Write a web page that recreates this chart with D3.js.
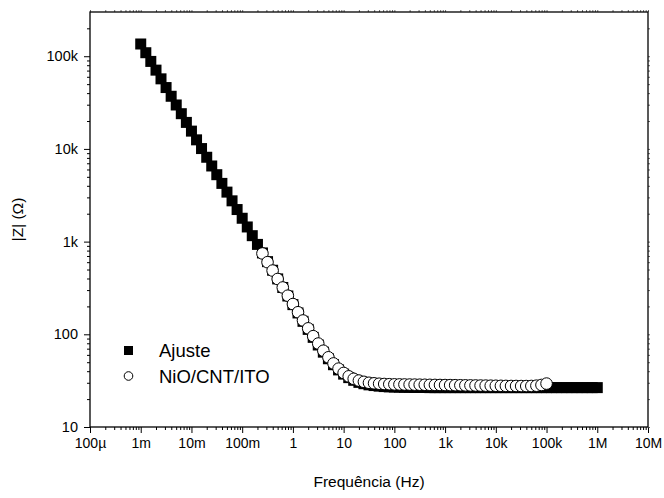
<!DOCTYPE html>
<html>
<head>
<meta charset="utf-8">
<script src="https://cdn.jsdelivr.net/npm/d3@7"></script>
<style>
  html, body { margin: 0; padding: 0; background: #fff; }
  svg { display: block; }
  text { font-family: "Liberation Sans", Arial, sans-serif; fill: #000; }
</style>
</head>
<body>
<svg id="chart" width="664" height="498"></svg>
<script>
// Frequencies of the fitted curve (Hz), ten points per decade
const fitFreq = [
  0.001,0.00126,0.00158,0.002,0.00251,0.00316,0.00398,0.00501,0.00631,0.00794,
  0.01,0.0126,0.0158,0.02,0.0251,0.0316,0.0398,0.0501,0.0631,0.0794,
  0.1,0.126,0.158,0.2,0.251,0.316,0.398,0.501,0.631,0.794,
  1,1.26,1.58,2,2.51,3.16,3.98,5.01,6.31,7.94,
  10,12.6,15.8,20,25.1,31.6,39.8,50.1,63.1,79.4,
  100,126,158,200,251,316,398,501,631,794,
  1000,1260,1580,2000,2510,3160,3980,5010,6310,7940,
  10000,12600,15800,20000,25100,31600,39800,50100,63100,79400,
  100000,126000,158000,200000,251000,316000,398000,501000,631000,794000,
  1000000
];
// |Z| of the fit (ohm)
const fitZ = [
  135500,109100,87900,70790,57020,45920,36980,29790,23990,19320,
  15560,12530,10090,8128,6546,5272,4246,3420,2754,2218,
  1786,1439,1159,933,755,608,491,396,320,259,
  209,170,138,113,92.7,76.7,64.2,54.5,47.0,41.3,
  37.2,34.1,31.9,30.3,29.3,28.5,28.0,27.6,27.3,27.1,
  27.0,26.9,26.8,26.8,26.7,26.7,26.7,26.6,26.6,26.6,
  26.6,26.6,26.6,26.6,26.6,26.6,26.6,26.6,26.6,26.6,
  26.6,26.6,26.6,26.6,26.6,26.6,26.6,26.6,26.6,26.6,
  26.6,26.6,26.6,26.6,26.6,26.6,26.6,26.6,26.6,26.6,
  26.6
];
// Measured NiO/CNT/ITO electrode: frequencies (Hz) and |Z| (ohm)
const dataFreq = [
  0.251,0.316,0.398,0.501,0.631,0.794,
  1,1.26,1.58,2,2.51,3.16,3.98,5.01,6.31,7.94,
  10,12.6,15.8,20,25.1,31.6,39.8,50.1,63.1,79.4,
  100,126,158,200,251,316,398,501,631,794,
  1000,1260,1580,2000,2510,3160,3980,5010,6310,7940,
  10000,12600,15800,20000,25100,31600,39800,50100,63100,79400,
  100000
];
const dataZ = [
  745,600,487,395,320,261,
  212,173,141,116,95.5,79.5,66.5,56.5,48.5,42.6,
  38.3,35.2,33.1,31.7,30.7,30.0,29.6,29.3,29.1,28.95,
  28.85,28.8,28.75,28.7,28.65,28.6,28.55,28.5,28.45,28.4,
  28.35,28.3,28.25,28.2,28.15,28.1,28.05,28.0,27.95,27.9,
  27.85,27.8,27.75,27.7,27.7,27.65,27.65,27.7,27.9,28.4,
  29.4
];

const xTickValues = [1e-4,1e-3,1e-2,1e-1,1,10,100,1e3,1e4,1e5,1e6,1e7];
const xTickLabels = ["100\u00b5","1m","10m","100m","1","10","100","1k","10k","100k","1M","10M"];
const yTickValues = [10,100,1e3,1e4,1e5];
const yTickLabels = ["10","100","1k","10k","100k"];
const seriesNames = ["Ajuste","NiO/CNT/ITO"];

const svg = d3.select("#chart");
const L = 90, R = 648, T = 12, B = 427;

const x = d3.scaleLog().domain([1e-4, 1e7]).range([L, R]);
const y = d3.scaleLog().domain([10, 3e5]).range([B, T]);

// minor ticks: 2..9 inside each decade
function minors(domain) {
  const out = [];
  const lo = Math.floor(Math.log10(domain[0])), hi = Math.ceil(Math.log10(domain[1]));
  for (let e = lo; e < hi; e++) for (let m = 2; m <= 9; m++) {
    const v = m * Math.pow(10, e);
    if (v > domain[0] && v < domain[1]) out.push(v);
  }
  return out;
}
const xMinor = minors(x.domain());
const yMinor = minors(y.domain());

function styleAxis(g) {
  g.select(".domain").remove();
  g.selectAll("line").attr("stroke", "#000").attr("stroke-width", 1);
}

// bottom axis
svg.append("g").attr("transform", `translate(0,${B})`)
  .call(d3.axisBottom(x).tickValues(xMinor).tickSize(3).tickFormat(""))
  .call(styleAxis);
svg.append("g").attr("transform", `translate(0,${B})`)
  .call(d3.axisBottom(x).tickValues(xTickValues).tickSize(6).tickPadding(5)
        .tickFormat((d, i) => xTickLabels[i]))
  .call(styleAxis)
  .call(g => g.selectAll("text").attr("font-size", 14).attr("font-family", "Liberation Sans, Arial, sans-serif"));

// left axis
svg.append("g").attr("transform", `translate(${L},0)`)
  .call(d3.axisLeft(y).tickValues(yMinor).tickSize(3).tickFormat(""))
  .call(styleAxis);
svg.append("g").attr("transform", `translate(${L},0)`)
  .call(d3.axisLeft(y).tickValues(yTickValues).tickSize(6).tickPadding(6)
        .tickFormat((d, i) => yTickLabels[i]))
  .call(styleAxis)
  .call(g => g.selectAll("text").attr("font-size", 14.5).attr("font-family", "Liberation Sans, Arial, sans-serif"));

// mirrored ticks on top and right
function faint(g) {
  g.select(".domain").remove();
  g.selectAll("line").attr("stroke", "#666").attr("stroke-width", 1);
}
svg.append("g").attr("transform", `translate(0,${T})`)
  .call(d3.axisTop(x).tickValues(xMinor.concat(xTickValues)).tickSize(2).tickFormat(""))
  .call(faint);
svg.append("g").attr("transform", `translate(${R},0)`)
  .call(d3.axisRight(y).tickValues(yMinor.concat(yTickValues)).tickSize(2).tickFormat(""))
  .call(faint);

// frame
svg.append("rect").attr("x", L).attr("y", T).attr("width", R - L).attr("height", B - T)
  .attr("fill", "none").attr("stroke", "#000").attr("stroke-width", 1.3);

// fitted curve: filled squares
const sq = 11;
svg.append("g").selectAll("rect").data(fitFreq).join("rect")
  .attr("x", (d) => x(d) - sq / 2)
  .attr("y", (d, i) => y(fitZ[i]) - sq / 2)
  .attr("width", sq).attr("height", sq)
  .attr("fill", "#000");

// measured data: open circles on top
svg.append("g").selectAll("circle").data(dataFreq).join("circle")
  .attr("cx", (d) => x(d))
  .attr("cy", (d, i) => y(dataZ[i]))
  .attr("r", 5.8)
  .attr("fill", "#fff").attr("stroke", "#000").attr("stroke-width", 1);

// legend
const lg = svg.append("g");
lg.append("rect").attr("x", 124).attr("y", 346).attr("width", 9).attr("height", 9).attr("fill", "#000");
lg.append("circle").attr("cx", 128.5).attr("cy", 376).attr("r", 4.3).attr("fill", "#fff").attr("stroke", "#000").attr("stroke-width", 1);
lg.append("text").attr("x", 159).attr("y", 357).attr("font-size", 18.5).text(seriesNames[0]);
lg.append("text").attr("x", 159).attr("y", 383).attr("font-size", 18.5).text(seriesNames[1]);

// axis titles
svg.append("text").attr("x", (L + R) / 2).attr("y", 487).attr("text-anchor", "middle")
  .attr("font-size", 15.5).text("Frequ\u00eancia (Hz)");
svg.append("text").attr("transform", `translate(23,${(T + B) / 2}) rotate(-90)`)
  .attr("text-anchor", "middle").attr("font-size", 15.5).text("|Z| (\u03a9)");
</script>
</body>
</html>
